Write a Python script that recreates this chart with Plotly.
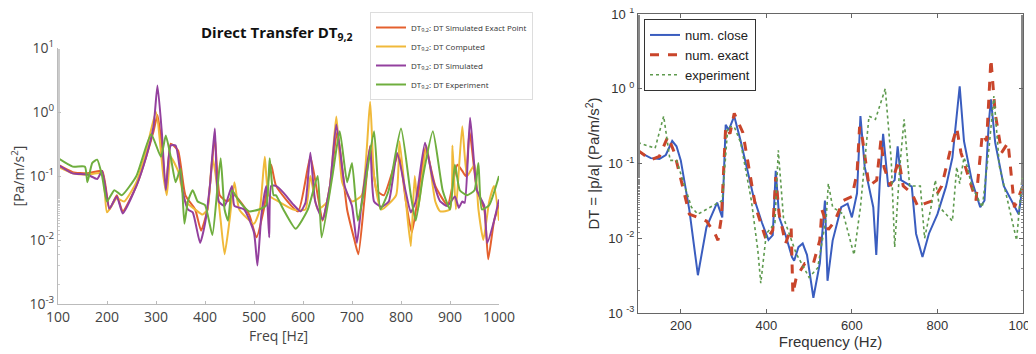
import plotly.graph_objects as go

# ---------------- Left panel data (Direct Transfer DT_9,2) ----------------
exact_f = [100,130,160,190,205,220,232,260,280,295,303,312,320,330,345,360,380,392,405,420,430,445,460,490,505,520,535,545,590,615,630,640,655,670,690,705,713,725,737,750,765,795,810,822,835,850,870,895,915,925,932,940,955,970,978,990,1000]
exact_v = [0.15,0.115,0.11,0.12,0.03,0.05,0.028,0.07,0.2,0.5,0.9,0.3,0.06,0.32,0.25,0.05,0.03,0.014,0.03,0.4,0.05,0.04,0.05,0.025,0.011,0.03,0.15,0.07,0.028,0.2,0.05,0.02,0.07,0.5,0.03,0.01,0.006,0.04,0.3,0.06,0.05,0.22,0.04,0.013,0.05,0.28,0.07,0.035,0.15,0.12,0.1,0.5,0.06,0.03,0.005,0.02,0.035]

comp_f = [100,130,160,190,200,220,235,260,280,300,315,322,330,345,360,380,395,405,415,422,432,440,450,460,470,500,512,522,530,550,580,605,615,630,650,668,680,700,720,737,745,760,790,797,810,820,828,835,852,870,880,900,905,912,925,935,950,958,968,980,990,1000]
comp_v = [0.14,0.11,0.105,0.11,0.027,0.045,0.04,0.08,0.25,1.0,0.1,0.05,0.2,0.12,0.04,0.03,0.025,0.03,0.2,0.1,0.02,0.006,0.02,0.08,0.03,0.018,0.03,0.2,0.05,0.04,0.03,0.03,0.1,0.03,0.04,0.85,0.08,0.04,0.05,1.45,0.1,0.03,0.05,0.35,0.04,0.008,0.1,0.03,0.3,0.04,0.028,0.03,0.3,0.03,0.6,0.1,0.15,0.03,0.01,0.04,0.07,0.02]

sim_f = [100,130,160,180,190,205,220,232,260,280,295,303,312,320,330,340,355,365,375,390,400,410,420,428,440,455,460,480,500,507,515,525,531,535,545,560,580,595,605,615,625,640,655,668,685,700,710,720,737,745,760,775,792,810,820,830,849,865,880,895,910,918,925,930,941,955,970,976,990,1000]
sim_v = [0.15,0.11,0.105,0.09,0.12,0.031,0.048,0.026,0.07,0.2,0.6,2.6,0.47,0.06,0.3,0.3,0.055,0.03,0.027,0.009,0.018,0.07,0.55,0.04,0.034,0.07,0.034,0.03,0.013,0.004,0.024,0.07,0.011,0.07,0.07,0.055,0.036,0.028,0.038,0.23,0.04,0.021,0.07,0.64,0.07,0.034,0.009,0.04,0.29,0.04,0.033,0.04,0.23,0.055,0.027,0.04,0.33,0.088,0.04,0.034,0.048,0.032,0.04,0.038,0.81,0.06,0.034,0.009,0.02,0.043]

exp_f = [100,130,155,160,170,180,190,200,215,230,260,290,310,320,330,340,350,358,365,375,385,400,415,425,432,440,447,455,470,490,510,525,532,540,545,560,585,610,630,638,660,675,690,700,712,725,745,758,775,800,820,830,845,865,885,900,910,920,935,950,958,965,980,1000]
exp_v = [0.19,0.14,0.14,0.08,0.16,0.18,0.1,0.04,0.06,0.05,0.1,0.45,0.2,0.43,0.2,0.08,0.13,0.018,0.04,0.06,0.04,0.035,0.012,0.06,0.19,0.03,0.02,0.06,0.04,0.028,0.03,0.035,0.19,0.05,0.05,0.03,0.015,0.03,0.1,0.011,0.1,0.5,0.08,0.16,0.02,0.06,0.5,0.03,0.06,0.55,0.05,0.02,0.1,0.5,0.06,0.03,0.15,0.06,0.05,0.06,0.16,0.03,0.035,0.1]

# ---------------- Right panel data ----------------
close_f = [100,130,150,165,180,190,200,220,240,260,285,297,305,312,325,340,370,390,405,415,422,430,445,460,465,475,485,495,510,525,537,543,555,575,590,600,612,620,630,650,657,665,673,685,700,707,715,740,750,765,780,800,820,835,852,862,880,900,910,920,925,935,955,975,990,1000]
close_v = [0.145,0.118,0.115,0.13,0.2,0.17,0.11,0.024,0.0032,0.014,0.03,0.019,0.33,0.28,0.43,0.2,0.036,0.016,0.0095,0.011,0.08,0.019,0.011,0.0056,0.005,0.0076,0.0085,0.006,0.0016,0.0046,0.032,0.0027,0.0093,0.026,0.029,0.019,0.04,0.43,0.09,0.026,0.006,0.054,0.25,0.049,0.06,0.17,0.06,0.049,0.0115,0.0056,0.0115,0.021,0.049,0.12,1.08,0.2,0.06,0.026,0.032,0.35,0.72,0.19,0.05,0.03,0.021,0.054]

nexact_f = [100,130,150,170,185,200,220,240,260,280,287,295,305,315,325,345,375,400,415,422,430,445,458,462,470,490,510,525,530,545,560,580,600,612,618,625,640,658,668,675,690,710,720,740,755,770,790,810,830,845,855,870,890,905,915,925,935,950,965,980,1000]
nexact_v = [0.15,0.112,0.125,0.23,0.14,0.06,0.021,0.019,0.017,0.0115,0.0094,0.019,0.31,0.25,0.47,0.26,0.026,0.0094,0.0128,0.066,0.021,0.0085,0.014,0.0018,0.003,0.0046,0.0046,0.0094,0.024,0.013,0.017,0.032,0.036,0.074,0.31,0.21,0.05,0.06,0.21,0.09,0.05,0.11,0.05,0.04,0.026,0.029,0.032,0.05,0.15,0.3,0.14,0.074,0.032,0.25,0.2,2.5,0.47,0.14,0.19,0.026,0.05]

expr_f = [100,140,160,175,190,210,225,240,270,297,310,325,340,365,380,387,400,420,428,440,470,500,520,540,545,555,580,605,620,640,655,678,692,700,712,722,735,760,770,785,795,805,835,845,852,862,870,880,905,920,932,945,960,985,1000]
expr_v = [0.19,0.16,0.43,0.11,0.11,0.05,0.026,0.021,0.026,0.032,0.31,0.31,0.19,0.032,0.007,0.0025,0.0115,0.016,0.15,0.019,0.0062,0.003,0.004,0.019,0.054,0.026,0.021,0.006,0.026,0.43,0.39,1.0,0.11,0.0076,0.09,0.39,0.05,0.05,0.010,0.026,0.06,0.026,0.017,0.09,0.054,0.12,0.09,0.05,0.026,0.15,0.8,0.09,0.04,0.0094,0.09]

left_names = ["DT<sub>9,2</sub>: DT Simulated Exact Point", "DT<sub>9,2</sub>: DT Computed",
              "DT<sub>9,2</sub>: DT Simulated", "DT<sub>9,2</sub>: DT Experiment"]
right_names = ["num. close", "num. exact", "experiment"]
left_xticks = [100, 200, 300, 400, 500, 600, 700, 800, 900, 1000]
right_xticks = [200, 400, 600, 800, 1000]
ytick_vals = [1e-3, 1e-2, 1e-1, 1, 10]
ytick_text_left = ["10<sup>-3</sup>", "10<sup>-2</sup>", "10<sup>-1</sup>", "10<sup>0</sup>", "10<sup>1</sup>"]
ytick_text_right = ["10 <sup>-3</sup>", "10 <sup>-2</sup>", "10 <sup>-1</sup>", "10 <sup>0</sup>", "10 <sup>1</sup>"]

fig = go.Figure()

left_cols = ["#E4602E", "#F0B93A", "#93409E", "#6FAE3E"]
for f, v, n, c in zip([exact_f, comp_f, sim_f, exp_f], [exact_v, comp_v, sim_v, exp_v], left_names, left_cols):
    fig.add_trace(go.Scatter(x=f, y=v, name=n, mode="lines",
                             line=dict(color=c, width=2, shape="spline", smoothing=0.5),
                             xaxis="x", yaxis="y", legend="legend"))

fig.add_trace(go.Scatter(x=close_f, y=close_v, name=right_names[0], mode="lines",
                         line=dict(color="#3A5DBF", width=2),
                         xaxis="x2", yaxis="y2", legend="legend2"))
fig.add_trace(go.Scatter(x=nexact_f, y=nexact_v, name=right_names[1], mode="lines",
                         line=dict(color="#C9452B", width=3, dash="dash"),
                         xaxis="x2", yaxis="y2", legend="legend2"))
fig.add_trace(go.Scatter(x=expr_f, y=expr_v, name=right_names[2], mode="lines",
                         line=dict(color="#5E9A4E", width=1.6, dash="dot"),
                         xaxis="x2", yaxis="y2", legend="legend2"))

# The page body adds an 8 px margin; the figure is sized/placed to compensate.
W, H = 1028, 346
def fx(px):
    return (px - 8) / W
def fy(py):
    return (354 - py) / H

gray = "#666666"
fig.update_layout(
    width=W, height=H,
    margin=dict(l=0, r=0, t=0, b=0),
    paper_bgcolor="white", plot_bgcolor="white",
    showlegend=True,
    xaxis=dict(domain=[fx(58), fx(499)], range=[100, 1000], tickvals=left_xticks, automargin=False,
               ticklabeloverflow="allow",
               showline=True, linecolor="#BBBBBB", linewidth=1, ticks="inside", ticklen=3,
               tickcolor="#BBBBBB", showgrid=False, zeroline=False,
               tickfont=dict(family="Open Sans", size=14, color="#444444"),
               title=dict(text="Freq [Hz]", font=dict(family="Open Sans", size=14, color="#444444"), standoff=0),
               anchor="y"),
    yaxis=dict(domain=[fy(304), fy(48)], type="log", range=[-3, 1], tickvals=ytick_vals, automargin=False,
               ticklabeloverflow="allow",
               ticktext=ytick_text_left, showline=True, linecolor="#BBBBBB", linewidth=1,
               ticks="inside", ticklen=3, tickcolor="#BBBBBB", showgrid=False, zeroline=False,
               minor=dict(ticks="inside", ticklen=2, tickcolor="#CCCCCC", showgrid=False),
               tickfont=dict(family="Open Sans", size=14, color="#444444"),
               title=dict(text="[Pa/m/s<sup>2</sup>]", font=dict(family="Open Sans", size=14, color="#444444"), standoff=6),
               anchor="x"),
    xaxis2=dict(domain=[fx(638), fx(1023)], range=[100, 1000], tickvals=right_xticks, automargin=False,
                ticklabeloverflow="allow",
                showline=True, mirror="ticks", linecolor=gray, linewidth=1, ticks="inside", ticklen=4,
                tickcolor=gray, showgrid=False, zeroline=False,
                tickfont=dict(family="Liberation Sans", size=13, color="#333333"),
                title=dict(text="Frequency (Hz)", font=dict(family="Liberation Sans", size=15, color="#333333"), standoff=2),
                anchor="y2"),
    yaxis2=dict(domain=[fy(313), fy(14)], type="log", range=[-3, 1], tickvals=ytick_vals, automargin=False,
                ticklabeloverflow="allow",
                ticktext=ytick_text_right, showline=True, mirror="ticks", linecolor=gray, linewidth=1,
                ticks="inside", ticklen=4, tickcolor=gray, showgrid=False, zeroline=False,
                minor=dict(ticks="inside", ticklen=2, tickcolor="#888888", showgrid=False),
                tickfont=dict(family="Liberation Sans", size=13, color="#333333"),
                title=dict(text="DT = |p/a| (Pa/m/s<sup>2</sup>)", font=dict(family="Liberation Sans", size=15, color="#333333"), standoff=4),
                anchor="x2"),
    legend=dict(x=fx(370), y=fy(12), xanchor="left", yanchor="top", bgcolor="white",
                bordercolor="#DDDDDD", borderwidth=1, font=dict(family="Open Sans", size=8, color="#333333"),
                itemwidth=30, tracegroupgap=0),
    legend2=dict(x=fx(644), y=fy(19), xanchor="left", yanchor="top", bgcolor="white",
                 bordercolor="#333333", borderwidth=1, font=dict(family="Liberation Sans", size=13, color="#222222"),
                 itemwidth=30, tracegroupgap=0),
    annotations=[dict(text="<b>Direct Transfer DT<sub>9,2</sub></b>", x=fx(277), y=fy(33), xref="paper", yref="paper",
                      xanchor="center", yanchor="middle",
                      showarrow=False, font=dict(family="Open Sans", size=15, color="#111111"))],
)

fig.write_html("out.html")
